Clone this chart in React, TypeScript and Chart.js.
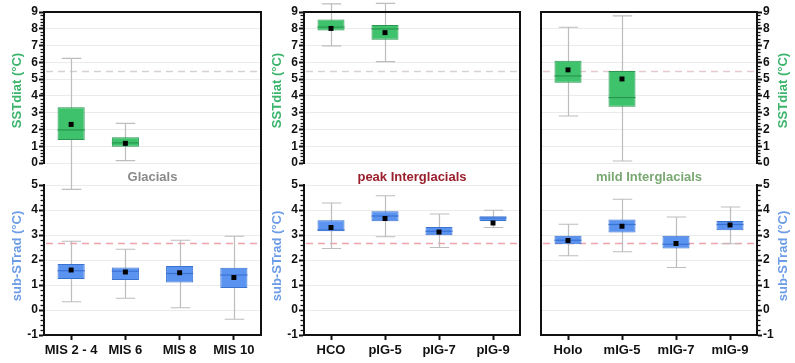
import { useEffect, useRef } from 'react';
import { Chart, registerables } from 'chart.js';

Chart.register(...registerables);

const W = 795;
const H = 363;
const FONT = '"Liberation Sans", Arial, Helvetica, sans-serif';

// ---------- categories ----------
const glacialLabels = ['MIS 2 - 4', 'MIS 6', 'MIS 8', 'MIS 10'];
const peakLabels = ['HCO', 'pIG-5', 'pIG-7', 'pIG-9'];
const mildLabels = ['Holo', 'mIG-5', 'mIG-7', 'mIG-9'];

// ---------- SSTdiat (°C) box statistics ----------
const glacialSstMin = [-1.57, 0.14, null, null];
const glacialSstQ1 = [1.37, 0.97, null, null];
const glacialSstMedian = [1.97, 1.2, null, null];
const glacialSstQ3 = [3.32, 1.53, null, null];
const glacialSstMax = [6.24, 2.36, null, null];
const glacialSstMean = [2.3, 1.17, null, null];

const peakSstMin = [6.98, 6.04, null, null];
const peakSstQ1 = [7.9, 7.34, null, null];
const peakSstMedian = [8.1, 7.99, null, null];
const peakSstQ3 = [8.55, 8.23, null, null];
const peakSstMax = [9.48, 9.52, null, null];
const peakSstMean = [8.02, 7.77, null, null];

const mildSstMin = [2.8, 0.12, null, null];
const mildSstQ1 = [4.79, 3.36, null, null];
const mildSstMedian = [5.19, 3.9, null, null];
const mildSstQ3 = [6.1, 5.49, null, null];
const mildSstMax = [8.09, 8.77, null, null];
const mildSstMean = [5.55, 5.01, null, null];

// ---------- sub-STrad (°C) box statistics ----------
const glacialRadMin = [0.33, 0.47, 0.09, -0.37];
const glacialRadQ1 = [1.24, 1.2, 1.1, 0.88];
const glacialRadMedian = [1.57, 1.55, 1.46, 1.4];
const glacialRadQ3 = [1.84, 1.7, 1.76, 1.69];
const glacialRadMax = [2.75, 2.43, 2.79, 2.95];
const glacialRadMean = [1.6, 1.52, 1.49, 1.3];

const peakRadMin = [2.46, 2.93, 2.5, 3.3];
const peakRadQ1 = [3.15, 3.55, 2.99, 3.56];
const peakRadMedian = [3.2, 3.76, 3.15, 3.68];
const peakRadQ3 = [3.59, 3.95, 3.32, 3.75];
const peakRadMax = [4.28, 4.57, 3.84, 3.99];
const peakRadMean = [3.3, 3.66, 3.12, 3.48];

const mildRadMin = [2.17, 2.33, 1.7, 2.65];
const mildRadQ1 = [2.63, 3.1, 2.46, 3.19];
const mildRadMedian = [2.79, 3.42, 2.63, 3.42];
const mildRadQ3 = [2.97, 3.62, 2.97, 3.56];
const mildRadMax = [3.43, 4.43, 3.72, 4.12];
const mildRadMean = [2.78, 3.35, 2.66, 3.4];

// ---------- reference lines ----------
const sstReference = 5.5;
const radReference = 2.7;

// ---------- axis ranges ----------
const sstRange = [0, 9];
const radRange = [-1, 5];

const GREEN = '#3ec26c';
const GREEN_DARK = '#2a9650';
const BLUE = '#5a93f0';
const BLUE_DARK = '#3a72d0';
const AXIS = '#111111';

type Stats = {
  min: (number | null)[];
  q1: (number | null)[];
  median: (number | null)[];
  q3: (number | null)[];
  max: (number | null)[];
  mean: (number | null)[];
};

type Panel = {
  labels: string[];
  sst: Stats;
  rad: Stats;
  side: 'left' | 'right';
  left: number;
  right: number;
  title: string;
  titleColor: string;
  sstRefColor: string;
};

const panels: Panel[] = [
  {
    labels: glacialLabels,
    sst: { min: glacialSstMin, q1: glacialSstQ1, median: glacialSstMedian, q3: glacialSstQ3, max: glacialSstMax, mean: glacialSstMean },
    rad: { min: glacialRadMin, q1: glacialRadQ1, median: glacialRadMedian, q3: glacialRadQ3, max: glacialRadMax, mean: glacialRadMean },
    side: 'left',
    left: 44,
    right: 261,
    title: 'Glacials',
    titleColor: '#8a8a8a',
    sstRefColor: '#d6d0d0',
  },
  {
    labels: peakLabels,
    sst: { min: peakSstMin, q1: peakSstQ1, median: peakSstMedian, q3: peakSstQ3, max: peakSstMax, mean: peakSstMean },
    rad: { min: peakRadMin, q1: peakRadQ1, median: peakRadMedian, q3: peakRadQ3, max: peakRadMax, mean: peakRadMean },
    side: 'left',
    left: 304,
    right: 520,
    title: 'peak Interglacials',
    titleColor: '#9a1f2c',
    sstRefColor: '#d9d2d2',
  },
  {
    labels: mildLabels,
    sst: { min: mildSstMin, q1: mildSstQ1, median: mildSstMedian, q3: mildSstQ3, max: mildSstMax, mean: mildSstMean },
    rad: { min: mildRadMin, q1: mildRadQ1, median: mildRadMedian, q3: mildRadQ3, max: mildRadMax, mean: mildRadMean },
    side: 'right',
    left: 541,
    right: 757,
    title: 'mild Interglacials',
    titleColor: '#7aa872',
    sstRefColor: '#e6c9cc',
  },
];

const AXIS_W = 36;
const TOP = 12;
const X_H = 28;

function makePlugin(p: Panel) {
  const series = [
    { stats: p.sst, axis: 'yTop', dark: GREEN_DARK, ref: sstReference, refColor: p.sstRefColor },
    { stats: p.rad, axis: 'yBot', dark: BLUE_DARK, ref: radReference, refColor: '#f0a3aa' },
  ];
  return {
    id: 'boxExtras',
    beforeDatasetsDraw(chart: any) {
      const { ctx, chartArea } = chart;
      const x = chart.scales.x;
      ctx.save();
      // dashed reference lines
      for (const s of series) {
        const y = chart.scales[s.axis];
        const py = Math.round(y.getPixelForValue(s.ref)) + 0.5;
        ctx.strokeStyle = s.refColor;
        ctx.lineWidth = 1.3;
        ctx.setLineDash([7, 5]);
        ctx.beginPath();
        ctx.moveTo(chartArea.left + 2, py);
        ctx.lineTo(chartArea.right - 2, py);
        ctx.stroke();
      }
      ctx.setLineDash([]);
      // whiskers
      const catW = x.getPixelForValue(1) - x.getPixelForValue(0);
      const cap = catW * 0.36;
      ctx.strokeStyle = '#bdbdbd';
      ctx.lineWidth = 1.2;
      for (const s of series) {
        const y = chart.scales[s.axis];
        s.stats.min.forEach((mn, i) => {
          const mx = s.stats.max[i];
          if (mn == null || mx == null) return;
          const cx = Math.round(x.getPixelForValue(i)) + 0.5;
          const y0 = y.getPixelForValue(mn);
          const y1 = y.getPixelForValue(mx);
          ctx.beginPath();
          ctx.moveTo(cx, y0);
          ctx.lineTo(cx, y1);
          ctx.moveTo(cx - cap / 2, y0);
          ctx.lineTo(cx + cap / 2, y0);
          ctx.moveTo(cx - cap / 2, y1);
          ctx.lineTo(cx + cap / 2, y1);
          ctx.stroke();
        });
      }
      ctx.restore();
    },
    afterDatasetDraw(chart: any, args: any) {
      const meta = args.meta;
      if (meta.type !== 'bar') return;
      const s = series.find((q) => q.axis === meta.yAxisID);
      if (!s) return;
      const { ctx } = chart;
      const y = chart.scales[s.axis];
      ctx.save();
      ctx.strokeStyle = s.dark;
      ctx.lineWidth = 1.2;
      s.stats.median.forEach((m, i) => {
        const el = meta.data[i];
        if (m == null || !el) return;
        const py = y.getPixelForValue(m);
        const w = el.width;
        ctx.beginPath();
        ctx.moveTo(el.x - w / 2, py);
        ctx.lineTo(el.x + w / 2, py);
        ctx.stroke();
      });
      ctx.restore();
    },
    afterDraw(chart: any) {
      const { ctx, chartArea } = chart;
      const yTop = chart.scales.yTop;
      const yBot = chart.scales.yBot;
      ctx.save();
      // frame
      ctx.strokeStyle = AXIS;
      ctx.lineWidth = 2;
      ctx.beginPath();
      ctx.moveTo(chartArea.left - 1, chartArea.top);
      ctx.lineTo(chartArea.right + 1, chartArea.top);
      const fx = p.side === 'left' ? chartArea.right : chartArea.left;
      ctx.moveTo(fx, chartArea.top);
      ctx.lineTo(fx, chartArea.bottom + 1);
      ctx.stroke();
      // minor ticks
      ctx.lineWidth = 1.3;
      for (const y of [yTop, yBot]) {
        const ax = p.side === 'left' ? chartArea.left : chartArea.right;
        const dir = p.side === 'left' ? -1 : 1;
        for (let k = Math.round(y.min * 5); k <= Math.round(y.max * 5); k++) {
          if (k % 5 === 0) continue;
          const py = Math.round(y.getPixelForValue(k / 5)) + 0.5;
          ctx.beginPath();
          ctx.moveTo(ax, py);
          ctx.lineTo(ax + dir * 3.5, py);
          ctx.stroke();
        }
      }
      // axis titles
      ctx.font = `bold 13px ${FONT}`;
      ctx.textAlign = 'center';
      ctx.textBaseline = 'middle';
      const tx = p.side === 'left' ? chartArea.left - 27 : chartArea.right + 26;
      const titles = [
        { text: 'SSTdiat (°C)', color: '#3cb46c', cy: (yTop.top + yTop.bottom) / 2 + 3 },
        { text: 'sub-STrad (°C)', color: '#6c9ce6', cy: (yBot.top + yBot.bottom) / 2 - 4 },
      ];
      for (const t of titles) {
        ctx.save();
        ctx.translate(tx, t.cy);
        ctx.rotate(-Math.PI / 2);
        ctx.fillStyle = t.color;
        ctx.fillText(t.text, 0, 0);
        ctx.restore();
      }
      // panel title
      ctx.fillStyle = p.titleColor;
      ctx.font = `bold 13px ${FONT}`;
      ctx.fillText(p.title, (chartArea.left + chartArea.right) / 2, 177);
      ctx.restore();
    },
  };
}

function yScale(p: Panel, range: number[], weight: number, stackWeight: number) {
  return {
    type: 'linear',
    position: p.side,
    stack: 'panel',
    stackWeight,
    weight,
    min: range[0],
    max: range[1],
    ticks: {
      stepSize: 1,
      autoSkip: false,
      color: AXIS,
      padding: 1,
      font: { family: FONT, size: 12, weight: 'bold' },
    },
    grid: {
      color: '#ebebeb',
      lineWidth: 1,
      drawTicks: true,
      tickLength: 5,
      tickColor: AXIS,
      tickWidth: 2,
    },
    border: { display: true, color: AXIS, width: 2 },
    afterFit(s: any) {
      s.width = AXIS_W;
    },
  };
}

function buildConfig(p: Panel): any {
  const left = p.side === 'left';
  const boxData = (st: Stats) => st.q1.map((v, i) => (v == null || st.q3[i] == null ? null : [v, st.q3[i]]));
  const meanSet = (data: (number | null)[], axis: string) => ({
    type: 'line',
    data,
    yAxisID: axis,
    showLine: false,
    pointStyle: 'rect',
    pointRadius: 3.5,
    pointBackgroundColor: '#000',
    pointBorderColor: '#000',
    pointBorderWidth: 0,
    order: 0,
  });
  const boxSet = (st: Stats, axis: string, fill: string, line: string) => ({
    type: 'bar',
    data: boxData(st),
    yAxisID: axis,
    backgroundColor: fill,
    borderColor: line,
    borderWidth: 1,
    borderSkipped: false,
    grouped: false,
    categoryPercentage: 0.5,
    barPercentage: 1,
    order: 1,
  });
  return {
    type: 'bar',
    data: {
      labels: p.labels,
      datasets: [
        meanSet(p.sst.mean, 'yTop'),
        meanSet(p.rad.mean, 'yBot'),
        boxSet(p.sst, 'yTop', GREEN, GREEN_DARK),
        boxSet(p.rad, 'yBot', BLUE, BLUE_DARK),
      ],
    },
    options: {
      animation: false,
      responsive: false,
      devicePixelRatio: 1,
      layout: {
        padding: {
          left: left ? p.left - AXIS_W : p.left,
          right: left ? W - p.right : W - p.right - AXIS_W,
          top: TOP,
          bottom: 0,
        },
      },
      plugins: { legend: { display: false }, tooltip: { enabled: false }, title: { display: false } },
      scales: {
        x: {
          type: 'category',
          offset: true,
          grid: {
            display: true,
            drawOnChartArea: false,
            offset: false,
            drawTicks: true,
            tickLength: 5,
            tickColor: AXIS,
            tickWidth: 2,
          },
          border: { display: true, color: AXIS, width: 2 },
          ticks: {
            color: AXIS,
            padding: 3,
            maxRotation: 0,
            autoSkip: false,
            font: { family: FONT, size: 13, weight: 'bold' },
          },
          afterFit(s: any) {
            s.height = X_H;
          },
        },
        yTop: yScale(p, sstRange, left ? 3 : 1, 151),
        yGap: {
          type: 'linear',
          display: false,
          position: p.side,
          stack: 'panel',
          stackWeight: 22,
          weight: 2,
          min: 0,
          max: 1,
        },
        yBot: yScale(p, radRange, left ? 1 : 3, 150),
      },
    },
    plugins: [makePlugin(p)],
  };
}

function PanelChart({ panel }: { panel: Panel }) {
  const ref = useRef<HTMLCanvasElement | null>(null);
  useEffect(() => {
    if (!ref.current) return;
    const chart = new Chart(ref.current, buildConfig(panel));
    return () => chart.destroy();
  }, [panel]);
  return (
    <canvas
      ref={ref}
      width={W}
      height={H}
      style={{ position: 'absolute', left: 0, top: 0, width: W, height: H }}
    />
  );
}

export default function App() {
  return (
    <div style={{ position: 'absolute', left: 0, top: 0, width: W, height: H, background: '#fff', overflow: 'hidden' }}>
      {panels.map((p, i) => (
        <PanelChart key={i} panel={p} />
      ))}
    </div>
  );
}
